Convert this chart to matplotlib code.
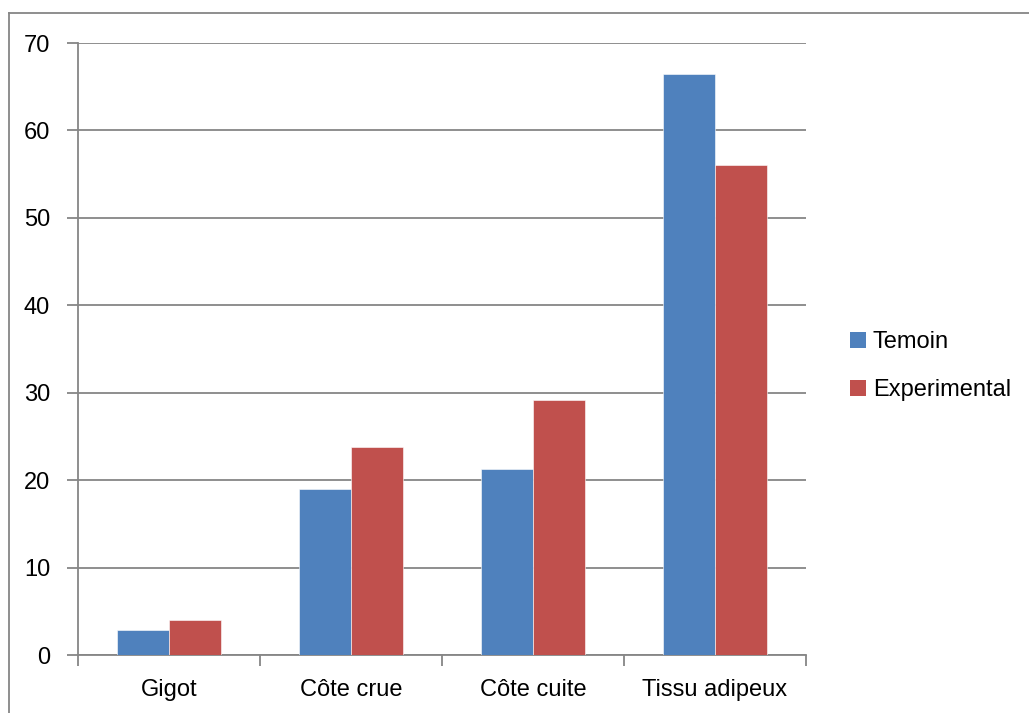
import numpy as np
import matplotlib
matplotlib.use('Agg')
import matplotlib.pyplot as plt
from matplotlib.lines import Line2D
from matplotlib.patches import Patch

# data
categories = ['Gigot', 'Côte crue', 'Côte cuite', 'Tissu adipeux']
temoin = [2.85, 19.0, 21.3, 66.4]
experimental = [3.95, 23.8, 29.2, 56.0]
series_names = ['Temoin', 'Experimental']
y_ticks = [0, 10, 20, 30, 40, 50, 60, 70]

blue = '#4f81bd'
red = '#c0504d'
grid_col = '#868686'

plt.rcParams['font.family'] = ['Liberation Sans', 'DejaVu Sans']

fig = plt.figure(figsize=(10.29, 7.13), dpi=100)
ax = fig.add_axes([78 / 1029, 1 - 655 / 713, 728 / 1029, 612 / 713])

x = np.arange(len(categories))
w = 1 / 3.5
ax.bar(x - w / 2, temoin, width=w, color=blue, edgecolor='white', linewidth=0.4, zorder=3)
ax.bar(x + w / 2, experimental, width=w, color=red, edgecolor='white', linewidth=0.4, zorder=3)

ax.set_xlim(-0.5, len(categories) - 0.5)
ax.set_ylim(0, 70)
ax.set_yticks(y_ticks)
ax.set_yticklabels([str(v) for v in y_ticks], fontsize=17)
ax.yaxis.grid(True, color=grid_col, linewidth=1.3, zorder=0)

# category labels centred, tick marks at category boundaries
ax.set_xticks(x)
ax.set_xticklabels(categories, fontsize=17)
ax.tick_params(axis='x', length=0, pad=17)
ax.set_xticks(np.arange(len(categories) + 1) - 0.5, minor=True)
ax.tick_params(axis='x', which='minor', length=8, width=1.3, color=grid_col, direction='out')
ax.tick_params(axis='y', length=8, width=1.3, color=grid_col, pad=12)

for s in ['top', 'right']:
    ax.spines[s].set_visible(False)
for s in ['left', 'bottom']:
    ax.spines[s].set_color(grid_col)
    ax.spines[s].set_linewidth(1.3)

handles = [Patch(facecolor=blue, label=series_names[0]),
           Patch(facecolor=red, label=series_names[1])]
fig.legend(handles=handles, loc='center left', bbox_to_anchor=(829 / 1029, 1 - 366 / 713),
           frameon=False, fontsize=17, handlelength=0.65, handleheight=0.65,
           handletextpad=0.3, labelspacing=1.1)

# outer chart frame (cut by the image edges)
fig.add_artist(Line2D([9 / 1029, 9 / 1029], [0, 1 - 13 / 713], color=grid_col, linewidth=1.3))
fig.add_artist(Line2D([9 / 1029, 1], [1 - 13 / 713, 1 - 13 / 713], color=grid_col, linewidth=1.3))

plt.savefig('out.png', dpi=100)
